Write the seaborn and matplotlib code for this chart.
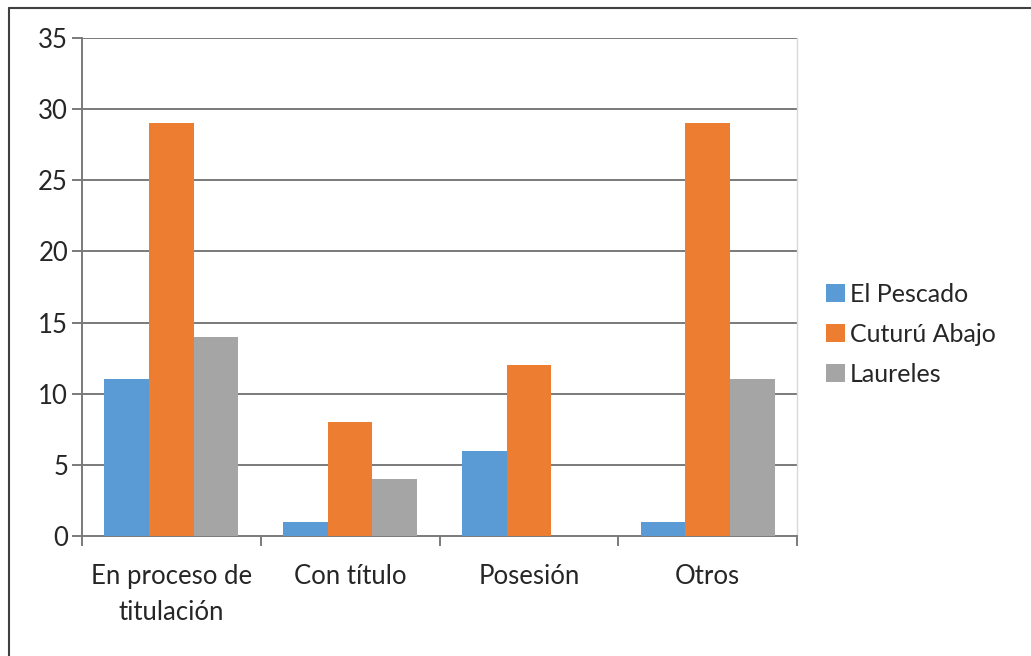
import matplotlib
matplotlib.use("Agg")
import matplotlib.pyplot as plt
import seaborn as sns
import pandas as pd
from matplotlib.lines import Line2D
from matplotlib.patches import Rectangle

categories = ["En proceso de\ntitulación", "Con título", "Posesión", "Otros"]
series = ["El Pescado", "Cuturú Abajo", "Laureles"]
el_pescado = [11, 1, 6, 1]
cuturu_abajo = [29, 8, 12, 29]
laureles = [14, 4, 0, 11]
colors = ["#5B9BD5", "#ED7D31", "#A5A5A5"]

rows = []
for name, vals in zip(series, [el_pescado, cuturu_abajo, laureles]):
    for cat, v in zip(categories, vals):
        rows.append({"categoria": cat, "serie": name, "valor": v})
df = pd.DataFrame(rows)

sns.set_theme(style="white")
plt.rcParams["font.family"] = ["Lato", "DejaVu Sans"]

fig = plt.figure(figsize=(10.31, 6.56), dpi=100)
ax = fig.add_axes([82 / 1031, 120 / 656, 715 / 1031, 498 / 656])

sns.barplot(data=df, x="categoria", y="valor", hue="serie", order=categories,
            hue_order=series, palette=colors, width=0.75, saturation=1,
            edgecolor="none", linewidth=0, ax=ax, zorder=3)

ax.set_xlim(-0.5, len(categories) - 0.5)
ax.set_ylim(0, 35)
ax.set_yticks(range(0, 36, 5))
ax.set_xlabel("")
ax.set_ylabel("")

grid_color = "#7A7A7A"
for y in range(5, 36, 5):
    ax.axhline(y, color=grid_color, lw=1.4, zorder=1)

ax.spines["top"].set_visible(False)
ax.spines["right"].set_color("#D9D9D9")
ax.spines["right"].set_linewidth(1.0)
ax.spines["left"].set_color(grid_color)
ax.spines["left"].set_linewidth(1.4)
ax.spines["bottom"].set_color(grid_color)
ax.spines["bottom"].set_linewidth(1.4)

text_color = "#262626"
label_size = 18.5

# category boundary ticks on the x axis
ax.set_xticks([i - 0.5 for i in range(len(categories) + 1)], minor=True)
ax.tick_params(axis="x", which="minor", length=7, width=1.4, color=grid_color, bottom=True)
ax.tick_params(axis="x", which="major", length=0, pad=20, labelsize=label_size,
               labelcolor=text_color)
ax.set_xticklabels(categories, linespacing=1.55)
ax.tick_params(axis="y", length=7, width=1.4, color=grid_color, left=True,
               labelsize=label_size, labelcolor=text_color, pad=3)

handles = [Rectangle((0, 0), 1, 1, facecolor=c, edgecolor="none") for c in colors]
ax.get_legend().remove()
fig.legend(handles, series, loc="center left", bbox_to_anchor=(816 / 1031, 1 - 334 / 656),
           frameon=False, fontsize=18, handlelength=0.75, handleheight=0.75,
           handletextpad=0.2, labelspacing=0.68, borderaxespad=0,
           labelcolor=text_color)

# outer chart border (left and top)
fig.add_artist(Line2D([8.5 / 1031, 8.5 / 1031], [0, 1 - 7.5 / 656], color="#404040", lw=1.5,
                      transform=fig.transFigure))
fig.add_artist(Line2D([8.5 / 1031, 1], [1 - 7.5 / 656, 1 - 7.5 / 656], color="#404040", lw=1.5,
                      transform=fig.transFigure))

fig.savefig("out.png", dpi=100, facecolor="white")
